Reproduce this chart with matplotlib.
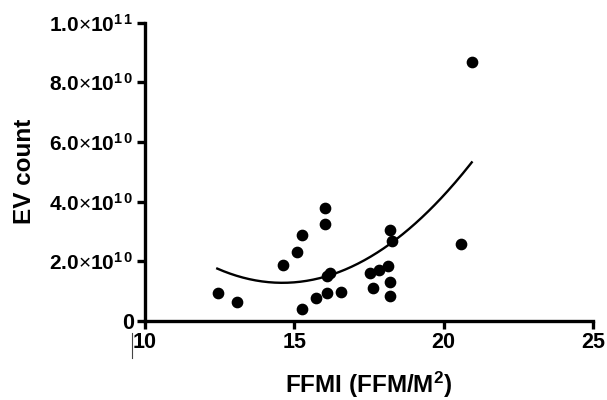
import numpy as np
import matplotlib
matplotlib.use("Agg")
import matplotlib.pyplot as plt
from matplotlib.lines import Line2D

plt.rcParams['font.family'] = ['Liberation Sans', 'DejaVu Sans']
plt.rcParams['mathtext.fontset'] = 'custom'
plt.rcParams['mathtext.rm'] = 'Liberation Sans'
plt.rcParams['mathtext.bf'] = 'Liberation Sans:bold'
plt.rcParams['mathtext.it'] = 'Liberation Sans:italic'

# data
ffmi = [12.45, 13.07, 15.25, 15.72, 16.10, 16.56, 14.61, 15.10, 15.25, 16.03,
        16.03, 16.08, 16.21, 17.53, 17.84, 18.15, 17.64, 18.20, 18.20, 18.20,
        18.26, 20.57, 20.96]
ev = [0.92e10, 0.64e10, 0.38e10, 0.75e10, 0.92e10, 0.97e10, 1.87e10, 2.32e10,
      2.88e10, 3.77e10, 3.23e10, 1.50e10, 1.59e10, 1.61e10, 1.70e10, 1.84e10,
      1.09e10, 1.31e10, 0.83e10, 3.04e10, 2.67e10, 2.56e10, 8.69e10]

# points
curve_x = [12.42, 14.41, 16.10, 18.20, 20.94]
curve_y = [1.78e10, 1.20e10, 1.53e10, 2.60e10, 5.30e10]

xticks = [10, 15, 20, 25]
yticks = [0, 2e10, 4e10, 6e10, 8e10, 1e11]
ytick_labels = ['0',
                r'$\mathbf{2.0}{\times}\mathbf{10}^{\mathbf{1\,0}}$',
                r'$\mathbf{4.0}{\times}\mathbf{10}^{\mathbf{1\,0}}$',
                r'$\mathbf{6.0}{\times}\mathbf{10}^{\mathbf{1\,0}}$',
                r'$\mathbf{8.0}{\times}\mathbf{10}^{\mathbf{1\,0}}$',
                r'$\mathbf{1.0}{\times}\mathbf{10}^{\mathbf{1\,1}}$']

fig = plt.figure(figsize=(6.07, 4.0), dpi=100)
ax = fig.add_axes([145 / 607, 1 - 320.7 / 400, 448 / 607, 298 / 400])

ax.scatter(ffmi, ev, s=55, color='black', zorder=3, clip_on=False)

# second order polynomial fit
coef = np.polyfit(curve_x, curve_y, 2)
xs = np.linspace(curve_x[0], curve_x[-1], 200)
ax.plot(xs, np.polyval(coef, xs), color='black', lw=1.7)

ax.set_xlim(10, 25)
ax.set_ylim(0, 1e11)
ax.set_xticks(xticks)
ax.set_xticklabels([str(t) for t in xticks], fontsize=15.5, fontweight='bold')
ax.set_yticks(yticks)
ax.set_yticklabels(ytick_labels, fontsize=15)
ax.get_yticklabels()[0].set_fontweight('bold')
ax.get_yticklabels()[0].set_fontsize(15.5)

for s in ['top', 'right']:
    ax.spines[s].set_visible(False)
for s in ['left', 'bottom']:
    ax.spines[s].set_linewidth(2.4)
ax.tick_params(width=2.4, length=6, direction='out', pad=2)

ax.set_xlabel(r'FFMI (FFM/M$^\mathbf{2}$)', fontsize=17.5, fontweight='bold', labelpad=12)
ax.set_ylabel('EV count', fontsize=17.5, fontweight='bold', labelpad=10)

# small stray bar left of the first x tick label
fig.add_artist(Line2D([132 / 607, 132 / 607], [1 - 333 / 400, 1 - 358 / 400],
                      color='#444444', lw=0.8))

fig.savefig('out.png', dpi=100)
